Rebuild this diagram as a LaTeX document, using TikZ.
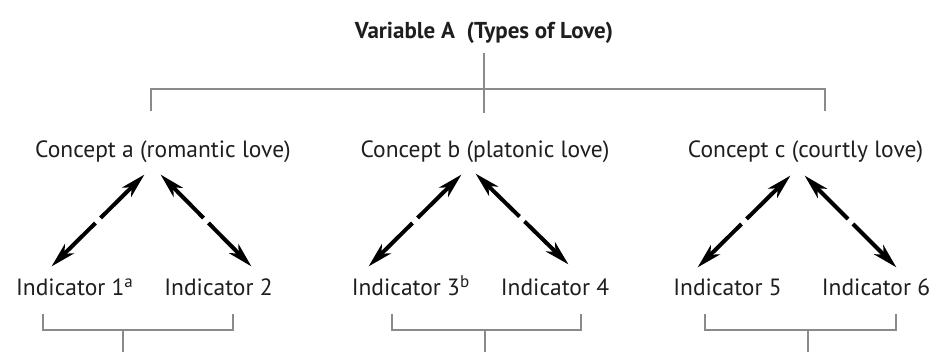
\documentclass[tikz,border=0pt]{standalone}
\usepackage{fontspec}
\setmainfont{PT Sans}
\usetikzlibrary{arrows.meta,calc}
\definecolor{txt}{HTML}{1E1E1E}
\definecolor{ln}{HTML}{8A8A8A}
\newcommand{\supmark}[1]{\raisebox{8.5pt}{\fontsize{17}{18}\selectfont #1}}
\tikzset{
  lbl/.style={font=\fontsize{23.5}{26}\selectfont, text=txt, inner sep=0pt, anchor=base},
  ttl/.style={font=\fontsize{23}{26}\selectfont\bfseries, text=txt, inner sep=0pt, anchor=base},
  tree/.style={draw=ln, line width=1.5pt},
  arr/.style={draw=black, line width=4pt, -{Stealth[length=25pt,width=13pt,inset=7pt]}, shorten >=-2pt},
}
\begin{document}
\begin{tikzpicture}[x=1pt,y=-1pt]
\useasboundingbox[fill=white] (0,0) rectangle (934,352);
% title
\node[ttl] (title) at (484,39) {Variable A\ \ (Types of Love)};
\coordinate (t1) at (484,53);
\coordinate (t2) at (484,113);
\coordinate (hl) at (151,89);
\coordinate (hr) at (825,89);
\coordinate (hlb) at (151,111);
\coordinate (hrb) at (825,111);
\draw[tree] (t1) -- (t2);
\draw[tree] (hlb) -- (hl) -- (hr) -- (hrb);
% concepts
\node[lbl] (ca) at (163,158) {Concept a (romantic love)};
\node[lbl] (cb) at (485,158) {Concept b (platonic love)};
\node[lbl] (cc) at (805.5,158) {Concept c (courtly love)};
% indicators
\node[lbl] (i1) at (74.5,296) {Indicator 1\supmark{a}};
\node[lbl] (i2) at (218.5,296) {Indicator 2};
\node[lbl] (i3) at (410.5,296) {Indicator 3\supmark{b}};
\node[lbl] (i4) at (555,296) {Indicator 4};
\node[lbl] (i5) at (727.5,296) {Indicator 5};
\node[lbl] (i6) at (876,296) {Indicator 6};
% arrow endpoints
\coordinate (a1t) at (143,176); \coordinate (a1b) at (53,265);
\coordinate (a2t) at (162,176); \coordinate (a2b) at (250,265);
\coordinate (b1t) at (460,176); \coordinate (b1b) at (370,265);
\coordinate (b2t) at (477,175); \coordinate (b2b) at (567,263);
\coordinate (c1t) at (789,177); \coordinate (c1b) at (699,266);
\coordinate (c2t) at (806,177); \coordinate (c2b) at (895,266);
\foreach \p in {a1,a2,b1,b2,c1,c2}{
  \draw[arr] ($(\p t)!0.472!(\p b)$) -- (\p t);
  \draw[arr] ($(\p t)!0.528!(\p b)$) -- (\p b);
}
% brackets
\foreach \n/\l/\r/\c in {a/43/233/123, b/392/581/485, c/705/896/808}{
  \coordinate (\n L) at (\l,314);
  \coordinate (\n R) at (\r,314);
  \coordinate (\n Lb) at (\l,330);
  \coordinate (\n Rb) at (\r,330);
  \coordinate (\n C) at (\c,330);
  \coordinate (\n D) at (\c,353);
  \draw[tree] (\n L) -- (\n Lb) -- (\n Rb) -- (\n R);
  \draw[tree] (\n C) -- (\n D);
}
\end{tikzpicture}
\end{document}
